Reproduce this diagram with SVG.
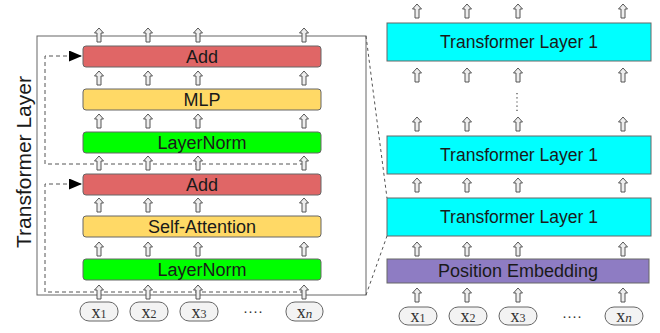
<svg xmlns="http://www.w3.org/2000/svg" xmlns:xlink="http://www.w3.org/1999/xlink" width="660" height="333" viewBox="0 0 660 333">
<style>
.box{stroke:#666;stroke-width:1}
.lbl{font-family:"Liberation Sans",Arial,sans-serif;font-size:18px;fill:#1a1a1a;text-anchor:middle}
.tok{fill:#f3f3f3;stroke:#666;stroke-width:1}
.tt{font-family:"Liberation Serif","Times New Roman",serif;font-size:18px;fill:#333;text-anchor:middle}
.dash{fill:none;stroke:#555;stroke-width:1;stroke-dasharray:4,3}
.arr{fill:#eeeeee;stroke:#555;stroke-width:1}
.dots{font-family:"Liberation Sans",Arial,sans-serif;font-size:15px;fill:#333;text-anchor:middle}
</style>
<defs>
<path id="ar" class="arr" d="M0,0 L4.5,5 L2,5 L2,14 L-2,14 L-2,5 L-4.5,5 Z"/>
<marker id="tri" markerUnits="userSpaceOnUse" markerWidth="14" markerHeight="12" refX="13" refY="5.5" orient="auto">
<path d="M0,0 L13,5.5 L0,11 Z" fill="#000"/>
</marker>
</defs>

<text class="lbl" style="font-size:21px" transform="translate(31,162) rotate(-90)">Transformer Layer</text>

<g id="connectors">
<rect x="37" y="36" width="329" height="259" fill="none" stroke="#666" stroke-width="1"/>
<path class="dash" d="M304,164 H45 V56 H82" marker-end="url(#tri)"/>
<path class="dash" d="M304,292 H45 V184 H82" marker-end="url(#tri)"/>
<path class="dash" d="M366,36 L387,198" style="stroke-dasharray:3,3"/>
<path class="dash" d="M366,295 L387,236" style="stroke-dasharray:3,3"/>
<line x1="517" y1="93" x2="517" y2="111" stroke="#444" stroke-width="1.2" stroke-dasharray="1.2,3"/>
</g>

<g id="add2"><rect class="box" x="83" y="46" width="238" height="21" rx="3" fill="#e06666"/><text class="lbl" x="202" y="63">Add</text></g>
<g id="mlp"><rect class="box" x="83" y="89" width="238" height="21" rx="3" fill="#ffd966"/><text class="lbl" x="202" y="106">MLP</text></g>
<g id="ln2"><rect class="box" x="83" y="132" width="238" height="21" rx="3" fill="#00ff00"/><text class="lbl" x="202" y="149">LayerNorm</text></g>
<g id="add1"><rect class="box" x="83" y="174" width="238" height="21" rx="3" fill="#e06666"/><text class="lbl" x="202" y="191">Add</text></g>
<g id="sa"><rect class="box" x="83" y="216" width="238" height="21" rx="3" fill="#ffd966"/><text class="lbl" x="202" y="233">Self-Attention</text></g>
<g id="ln1"><rect class="box" x="83" y="259" width="238" height="21" rx="3" fill="#00ff00"/><text class="lbl" x="202" y="276">LayerNorm</text></g>

<g id="tokL1"><rect class="tok" x="80" y="302" width="38" height="19" rx="9"/><text class="tt" x="99" y="318">x<tspan style="font-size:12px">1</tspan></text></g>
<g id="tokL2"><rect class="tok" x="130" y="302" width="38" height="19" rx="9"/><text class="tt" x="149" y="318">x<tspan style="font-size:12px">2</tspan></text></g>
<g id="tokL3"><rect class="tok" x="180" y="302" width="38" height="19" rx="9"/><text class="tt" x="199" y="318">x<tspan style="font-size:12px">3</tspan></text></g>
<text class="dots" x="253" y="316">····</text>
<g id="tokLn"><rect class="tok" x="286" y="302" width="37" height="19" rx="9"/><text class="tt" x="304.5" y="318">x<tspan style="font-size:13px;font-style:italic">n</tspan></text></g>

<g id="tl3"><rect class="box" x="387" y="23" width="264" height="38" fill="#00ffff"/><text class="lbl" x="519" y="48" style="font-size:17.5px">Transformer Layer 1</text></g>
<g id="tl2"><rect class="box" x="387" y="136" width="264" height="38" fill="#00ffff"/><text class="lbl" x="519" y="161" style="font-size:17.5px">Transformer Layer 1</text></g>
<g id="tl1"><rect class="box" x="387" y="198" width="264" height="38" fill="#00ffff"/><text class="lbl" x="519" y="223" style="font-size:17.5px">Transformer Layer 1</text></g>
<g id="pe"><rect class="box" x="387" y="259" width="262" height="24" fill="#8e7cc3"/><text class="lbl" x="518" y="277">Position Embedding</text></g>

<g id="tokR1"><rect class="tok" x="399" y="307" width="38" height="18" rx="9"/><text class="tt" x="418" y="322">x<tspan style="font-size:12px">1</tspan></text></g>
<g id="tokR2"><rect class="tok" x="449" y="307" width="38" height="18" rx="9"/><text class="tt" x="468" y="322">x<tspan style="font-size:12px">2</tspan></text></g>
<g id="tokR3"><rect class="tok" x="499" y="307" width="38" height="18" rx="9"/><text class="tt" x="518" y="322">x<tspan style="font-size:12px">3</tspan></text></g>
<text class="dots" x="572" y="321">····</text>
<g id="tokRn"><rect class="tok" x="605" y="307" width="38" height="18" rx="9"/><text class="tt" x="624" y="322">x<tspan style="font-size:13px;font-style:italic">n</tspan></text></g>

<g id="arrows">
<use xlink:href="#ar" x="99" y="28"/><use xlink:href="#ar" x="148" y="28"/><use xlink:href="#ar" x="198" y="28"/><use xlink:href="#ar" x="304" y="28"/>
<use xlink:href="#ar" x="99" y="71"/><use xlink:href="#ar" x="148" y="71"/><use xlink:href="#ar" x="198" y="71"/><use xlink:href="#ar" x="304" y="71"/>
<use xlink:href="#ar" x="99" y="114"/><use xlink:href="#ar" x="148" y="114"/><use xlink:href="#ar" x="198" y="114"/><use xlink:href="#ar" x="304" y="114"/>
<use xlink:href="#ar" x="99" y="156"/><use xlink:href="#ar" x="148" y="156"/><use xlink:href="#ar" x="198" y="156"/><use xlink:href="#ar" x="304" y="156"/>
<use xlink:href="#ar" x="99" y="198"/><use xlink:href="#ar" x="148" y="198"/><use xlink:href="#ar" x="198" y="198"/><use xlink:href="#ar" x="304" y="198"/>
<use xlink:href="#ar" x="99" y="242"/><use xlink:href="#ar" x="148" y="242"/><use xlink:href="#ar" x="198" y="242"/><use xlink:href="#ar" x="304" y="242"/>
<use xlink:href="#ar" x="99" y="285"/><use xlink:href="#ar" x="148" y="285"/><use xlink:href="#ar" x="198" y="285"/><use xlink:href="#ar" x="304" y="285"/>
<use xlink:href="#ar" x="417" y="4"/><use xlink:href="#ar" x="467" y="4"/><use xlink:href="#ar" x="518" y="4"/><use xlink:href="#ar" x="623" y="4"/>
<use xlink:href="#ar" x="417" y="68"/><use xlink:href="#ar" x="467" y="68"/><use xlink:href="#ar" x="518" y="68"/><use xlink:href="#ar" x="623" y="68"/>
<use xlink:href="#ar" x="417" y="117"/><use xlink:href="#ar" x="467" y="117"/><use xlink:href="#ar" x="518" y="117"/><use xlink:href="#ar" x="623" y="117"/>
<use xlink:href="#ar" x="417" y="178"/><use xlink:href="#ar" x="467" y="178"/><use xlink:href="#ar" x="518" y="178"/><use xlink:href="#ar" x="623" y="178"/>
<use xlink:href="#ar" x="417" y="242"/><use xlink:href="#ar" x="467" y="242"/><use xlink:href="#ar" x="518" y="242"/><use xlink:href="#ar" x="623" y="242"/>
<use xlink:href="#ar" x="417" y="288"/><use xlink:href="#ar" x="467" y="288"/><use xlink:href="#ar" x="518" y="288"/><use xlink:href="#ar" x="623" y="288"/>
</g>
</svg>
